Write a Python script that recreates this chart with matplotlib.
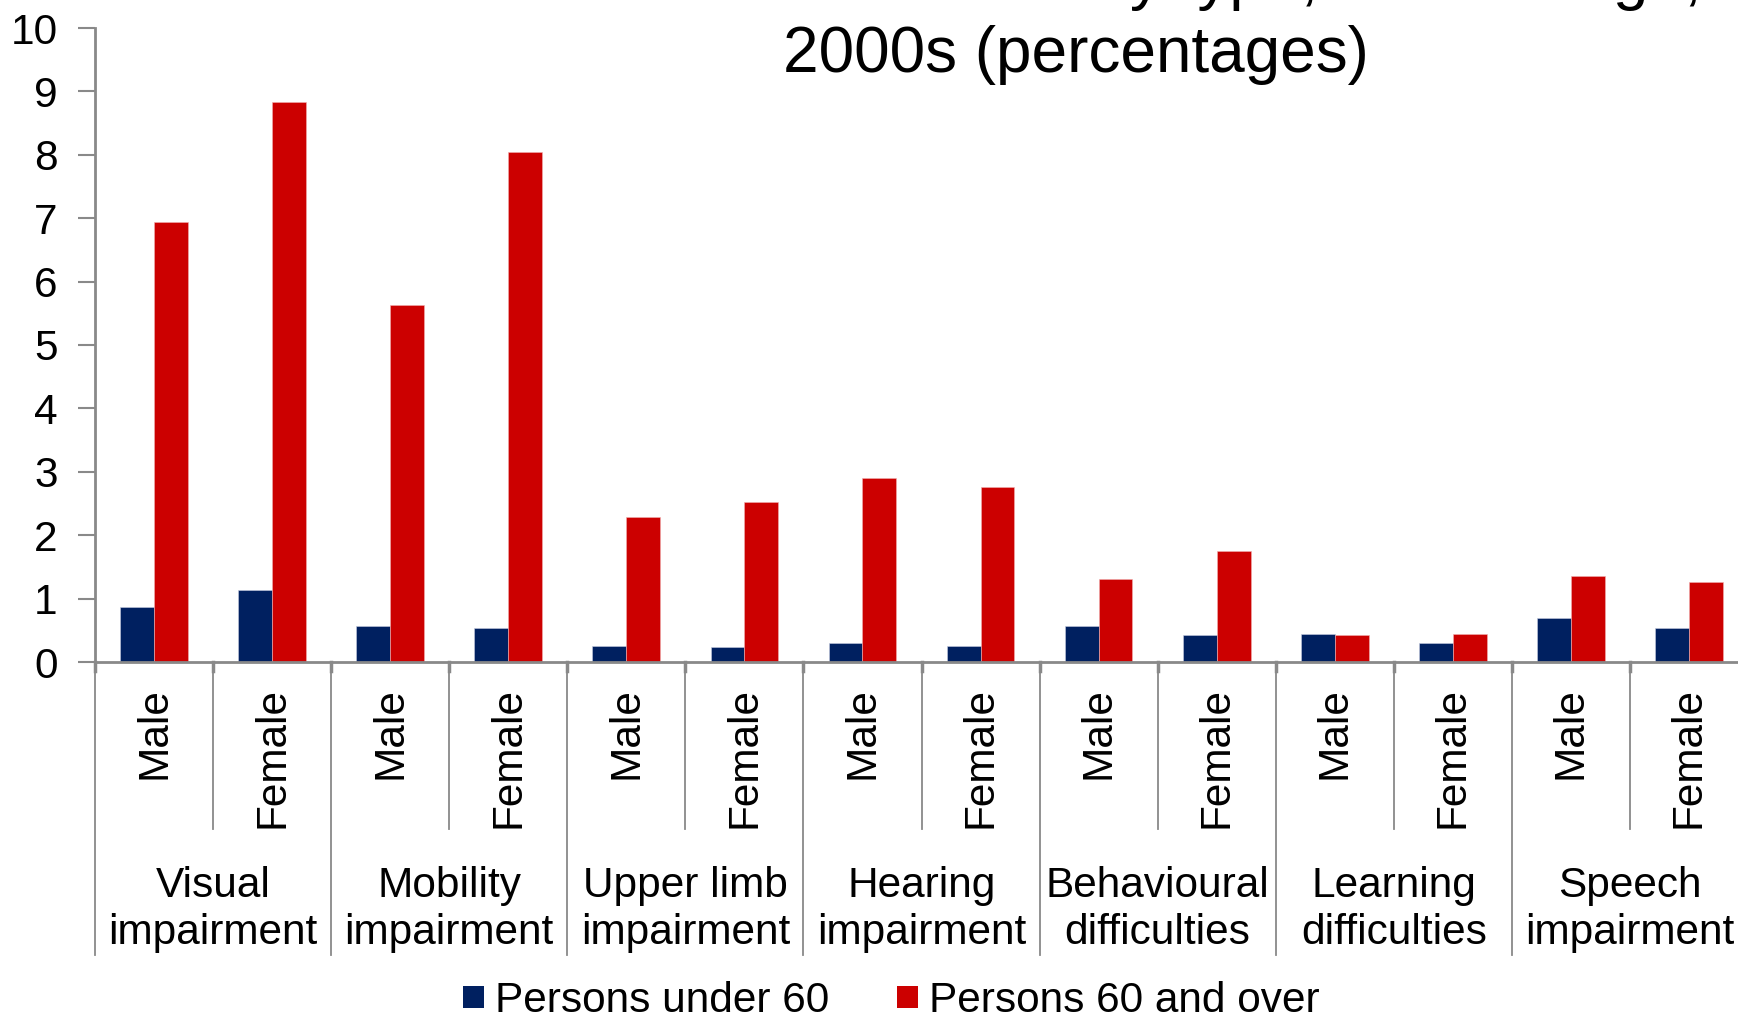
import matplotlib
matplotlib.use("Agg")
import matplotlib.pyplot as plt
from matplotlib.patches import Patch
from matplotlib.transforms import blended_transform_factory

plt.rcParams["font.family"] = ["Liberation Sans", "DejaVu Sans"]

# Data
impairments = ["Visual\nimpairment", "Mobility\nimpairment", "Upper limb\nimpairment",
               "Hearing\nimpairment", "Behavioural\ndifficulties", "Learning\ndifficulties",
               "Speech\nimpairment"]
sexes = ["Male", "Female"]
under_60 = [0.86, 1.14, 0.56, 0.54, 0.26, 0.24, 0.30, 0.26, 0.56, 0.42, 0.44, 0.30, 0.70, 0.54]
over_60 = [6.94, 8.83, 5.63, 8.04, 2.29, 2.52, 2.90, 2.76, 1.31, 1.75, 0.43, 0.44, 1.35, 1.26]
series_names = ["Persons under 60", "Persons 60 and over"]

NAVY = "#002060"
RED = "#CC0000"
GREY = "#898989"
FS = 30.5

fig = plt.figure(figsize=(17.38, 10.19), dpi=100)
ax = fig.add_axes([95 / 1738, 1 - 662 / 1019, 1653 / 1738, 634 / 1019])

n = len(under_60)
x = list(range(n))
w = 0.287
ax.bar([i - w / 2 for i in x], under_60, width=w, color=NAVY, edgecolor="#c8cde0", linewidth=0.4)
ax.bar([i + w / 2 for i in x], over_60, width=w, color=RED, edgecolor="#f0b0b0", linewidth=0.4)

ax.set_xlim(-0.5, n - 0.5)
ax.set_ylim(0, 10)
ax.set_yticks(range(0, 11))
ax.tick_params(axis="y", labelsize=FS, length=12, width=1.5, color=GREY, pad=15)
ax.set_xticks([])
for s in ["top", "right"]:
    ax.spines[s].set_visible(False)
for s in ["left", "bottom"]:
    ax.spines[s].set_color(GREY)
    ax.spines[s].set_linewidth(2)

# two-level category axis
trans = blended_transform_factory(ax.transData, ax.transAxes)
for i in range(n + 1):
    if i % 2 == 0:
        ax.plot([i - 0.5, i - 0.5], [0, -0.462], transform=trans, color=GREY, lw=1.3, clip_on=False)
    else:
        ax.plot([i - 0.5, i - 0.5], [0, -0.263], transform=trans, color=GREY, lw=1.3, clip_on=False)
    ax.plot([i - 0.5, i - 0.5], [0, -0.014], transform=trans, color=GREY, lw=2.5, clip_on=False)

for i in range(n):
    ax.text(i, -0.039, sexes[i % 2], transform=trans, rotation=90, ha="center", va="top",
            fontsize=FS)
for g, name in enumerate(impairments):
    ax.text(2 * g + 0.5, -0.39, name, transform=trans, ha="center", va="center",
            fontsize=FS, linespacing=1.24)

# title (first line runs off the top of the image)
fig.text(1702 / 1738, 1 + 2 / 1019, "Prevalence of disablement by type, sex and age,",
         ha="right", va="baseline", fontsize=46)
fig.text(1076 / 1738, 1 - 72 / 1019, "2000s (percentages)", ha="center", va="baseline",
         fontsize=46)

handles = [Patch(facecolor=NAVY), Patch(facecolor=RED)]
fig.legend(handles, series_names, loc="center", bbox_to_anchor=(0.513, 1 - 1001 / 1019),
           ncol=2, frameon=False, fontsize=FS, handlelength=0.5, handleheight=0.45,
           handletextpad=0.26, columnspacing=1.6, borderpad=0, borderaxespad=0)

fig.savefig("out.png", dpi=100)
